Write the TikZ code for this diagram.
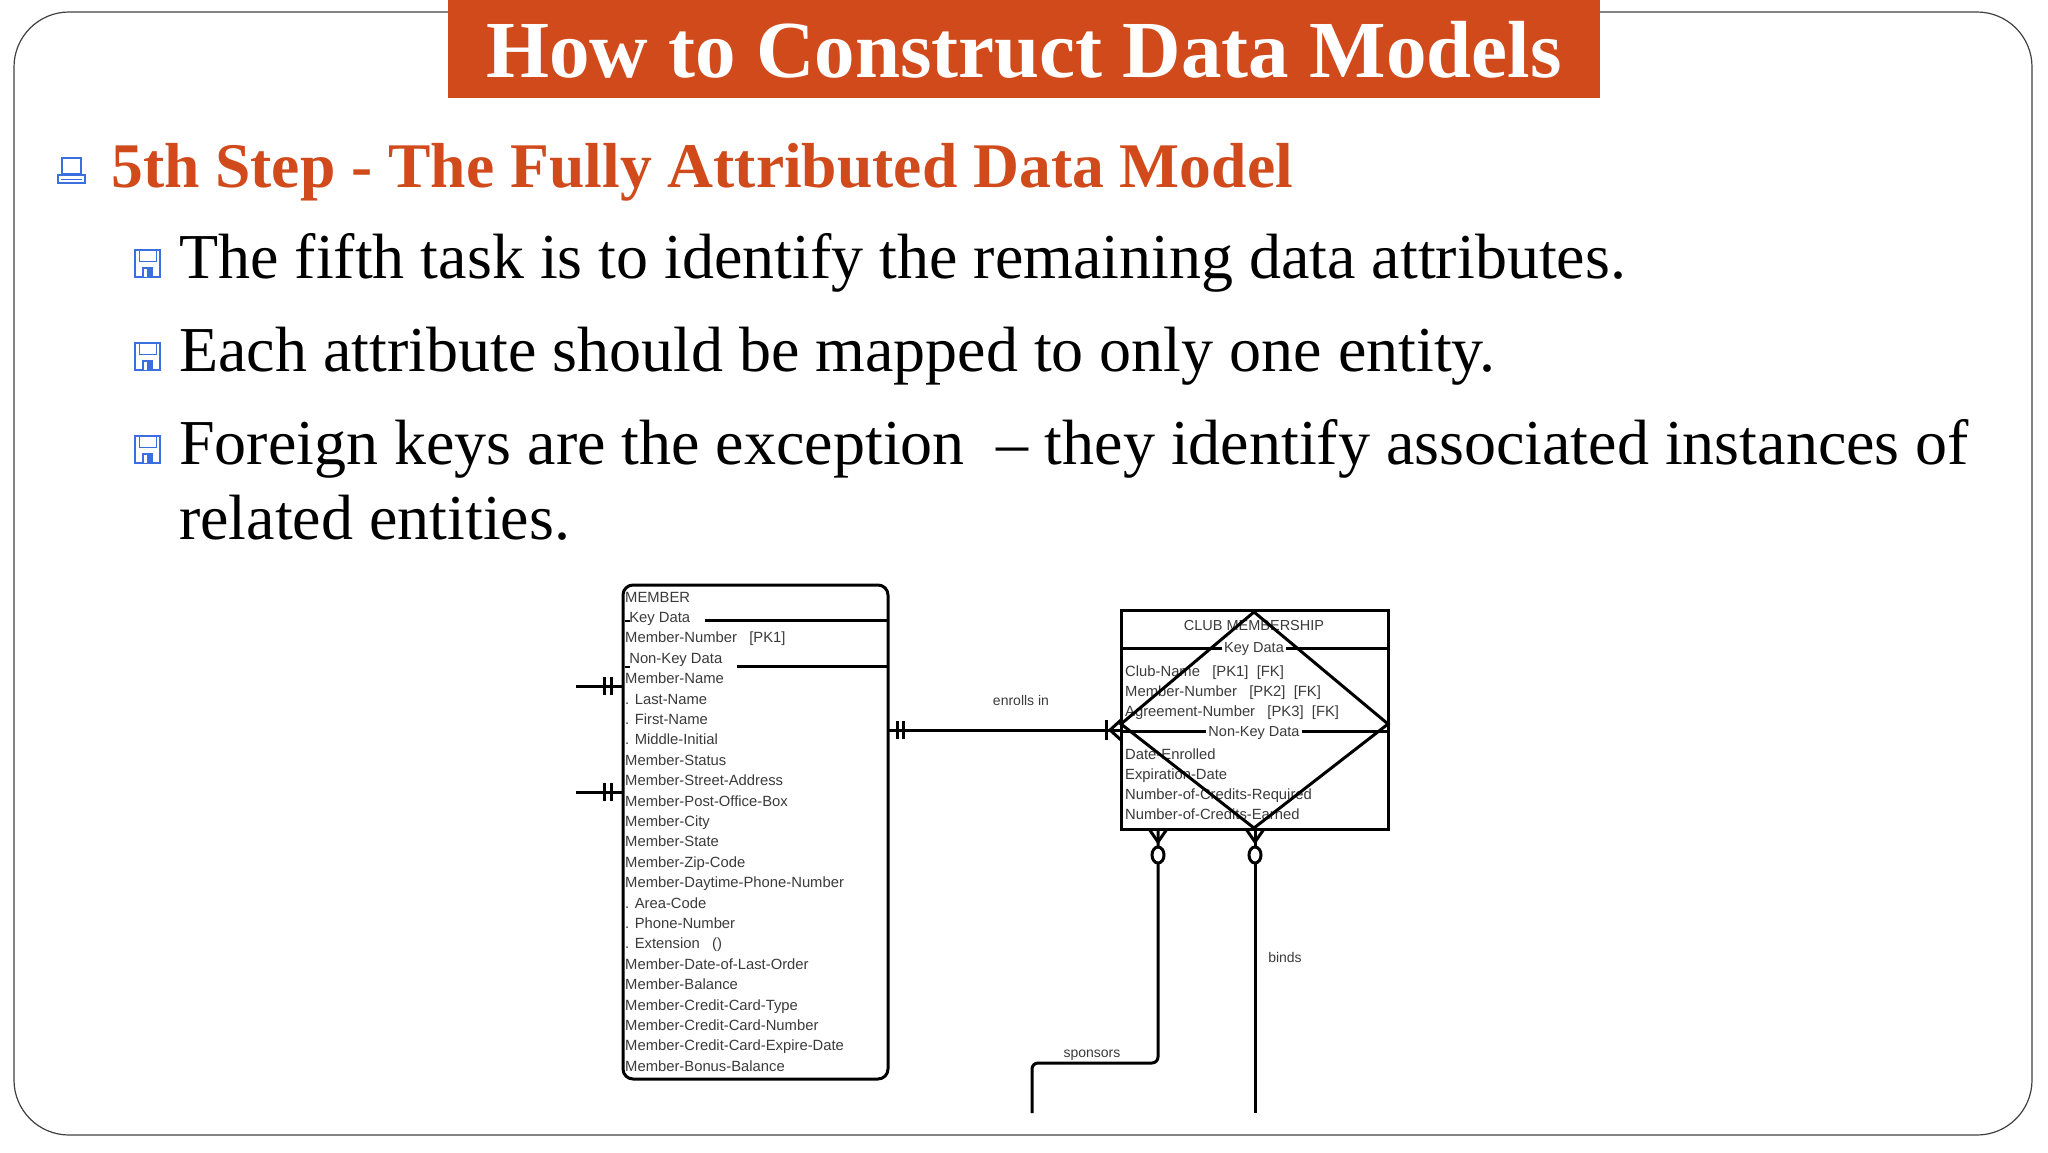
\documentclass[tikz,border=0pt]{standalone}
\usepackage{fontspec}
\setmainfont{Liberation Serif}
\newfontfamily\erfont{Liberation Sans}
\definecolor{accent}{HTML}{D04A1C}
\definecolor{iconblue}{HTML}{3B6FE0}
\definecolor{ertext}{HTML}{3A3A3A}
\begin{document}
\begin{tikzpicture}[x=1pt,y=-1pt,
  row/.style={anchor=base west,inner sep=0pt,font=\erfont\fontsize{14.8}{14.8}\selectfont,text=ertext},
  rowc/.style={anchor=base,inner sep=0pt,font=\erfont\fontsize{14.5}{14.5}\selectfont,text=ertext,fill=white,inner xsep=2pt},
  bul/.style={anchor=base west,inner sep=0pt,font=\fontsize{64}{64}\selectfont},
  erline/.style={line width=3pt},
  lbl/.style={anchor=base,inner sep=0pt,font=\erfont\fontsize{14}{14}\selectfont,text=ertext}]
\useasboundingbox (0,0) rectangle (2048,1152);
% frame
\draw[line width=1.2pt,draw=black!75,rounded corners=55pt] (14,12) rectangle (2032,1135);
% title
\node[fill=accent,minimum width=1152pt,minimum height=98pt,inner sep=0pt,anchor=north west] (title) at (448,0) {};
\node[text=white,font=\bfseries\fontsize{81}{81}\selectfont,anchor=base] (titletext) at (1024,77) {How to Construct Data Models};
% subheading
\node[bul,text=accent,font=\bfseries\fontsize{63.6}{63.6}\selectfont] (sub) at (111,187) {5th Step - The Fully Attributed Data Model};
% computer icon
\draw[iconblue,line width=1.3pt] (62,158) rectangle (81,174);
\draw[iconblue,line width=1.3pt] (58,175) -- (85,175) -- (85,183) -- (58,183) -- cycle;
\draw[iconblue,line width=0.8pt] (61,179) -- (82,179);
% floppy icons
\foreach \yy/\nm in {250/fa,343/fb,436/fc}{
  \draw[iconblue,line width=1.3pt] (135,\yy) rectangle (160,\yy+27);
  \draw[iconblue,line width=1pt] (139,\yy) rectangle (156,\yy+11);
  \fill[iconblue] (142,\yy+17) rectangle (153,\yy+27);
  \fill[white] (144,\yy+19) rectangle (147,\yy+27);
}
\node[bul] (b1) at (179,278) {The fifth task is to identify the remaining data attributes.};
\node[bul] (b2) at (179,371) {Each attribute should be mapped to only one entity.};
\node[bul] (b3) at (179,464) {Foreign keys are the exception~~– they identify associated instances of};
\node[bul] (b4) at (179,539) {related entities.};
% MEMBER entity
\draw[erline,rounded corners=10pt] (623,585) rectangle (888,1079);
\node (member) at (755,832) {};
\draw[erline] (705,620) -- (888,620);
\draw[erline] (737,666) -- (888,666);
\draw[line width=2pt] (625,621) -- (630,621);
\draw[line width=2pt] (625,667) -- (630,667);
\foreach \t [count=\i from 0] in {MEMBER,\ Key Data,Member-Number\ \ \ [PK1],\ Non-Key Data,Member-Name,. Last-Name,. First-Name,. Middle-Initial,Member-Status,Member-Street-Address,Member-Post-Office-Box,Member-City,Member-State,Member-Zip-Code,Member-Daytime-Phone-Number,. Area-Code,. Phone-Number,. Extension\ \ \ (),Member-Date-of-Last-Order,Member-Balance,Member-Credit-Card-Type,Member-Credit-Card-Number,Member-Credit-Card-Expire-Date,Member-Bonus-Balance}{
  \node[row] (m\i) at (625,{602+\i*20.4}) {\t};
}
% left stubs
\coordinate (s1) at (576,686);
\coordinate (s2) at (576,792);
\coordinate (s1e) at (623,686);
\coordinate (s2e) at (623,792);
\draw[erline] (s1) -- (s1e);
\draw[erline] (s2) -- (s2e);
\foreach \yy in {686,792}{\draw[erline] (604,\yy-9) -- (604,\yy+9); \draw[erline] (611,\yy-9) -- (611,\yy+9);}
% CLUB MEMBERSHIP
\draw[erline] (1121,610) rectangle (1388,829);
\node (club) at (1254,720) {};
\draw[erline] (1121,648) -- (1388,648);
\draw[erline] (1121,731) -- (1388,731);
\node[rowc] (ct) at (1254,630) {CLUB MEMBERSHIP};
\node[rowc] (ck) at (1254,652) {Key Data};
\node[rowc] (cn) at (1254,736) {Non-Key Data};
\foreach \t/\yy in {Club-Name\ \ \ [PK1]\ \ [FK]/676,Member-Number\ \ \ [PK2]\ \ [FK]/696,Agreement-Number\ \ \ [PK3]\ \ [FK]/716,Date-Enrolled/759,Expiration-Date/779,Number-of-Credits-Required/799,Number-of-Credits-Earned/819}{
  \node[row] at (1125,\yy) {\t};
}
\draw[erline,line join=miter] (1254,612) -- (1388,724) -- (1254,828) -- (1121,724) -- cycle;
% enrolls in
\coordinate (e1) at (888,730);
\coordinate (e2) at (1121,730);
\draw[erline] (e1) -- (e2);
\draw[erline] (897,721) -- (897,739);
\draw[erline] (903,721) -- (903,739);
\draw[erline] (1106,720) -- (1106,740);
\draw[erline] (1110,730) -- (1121,720);
\draw[erline] (1110,730) -- (1121,740);
\node[lbl] (enr) at (1021,705) {enrolls in};
% sponsors
\coordinate (p1) at (1158,829);
\coordinate (p2) at (1032,1113);
\draw[erline,rounded corners=6pt] (p1) -- (1158,1063) -- (1032,1063) -- (p2);
\draw[erline] (1158,842) -- (1149,829);
\draw[erline] (1158,842) -- (1167,829);
\draw[erline,fill=white] (1158,855) ellipse (6pt and 8pt);
\node[lbl] (sp) at (1092,1057) {sponsors};
% binds
\coordinate (q1) at (1255,829);
\coordinate (q2) at (1255,1113);
\draw[erline] (q1) -- (q2);
\draw[erline] (1255,842) -- (1246,829);
\draw[erline] (1255,842) -- (1264,829);
\draw[erline,fill=white] (1255,855) ellipse (6pt and 8pt);
\node[lbl] (bd) at (1285,962) {binds};
\end{tikzpicture}
\end{document}
